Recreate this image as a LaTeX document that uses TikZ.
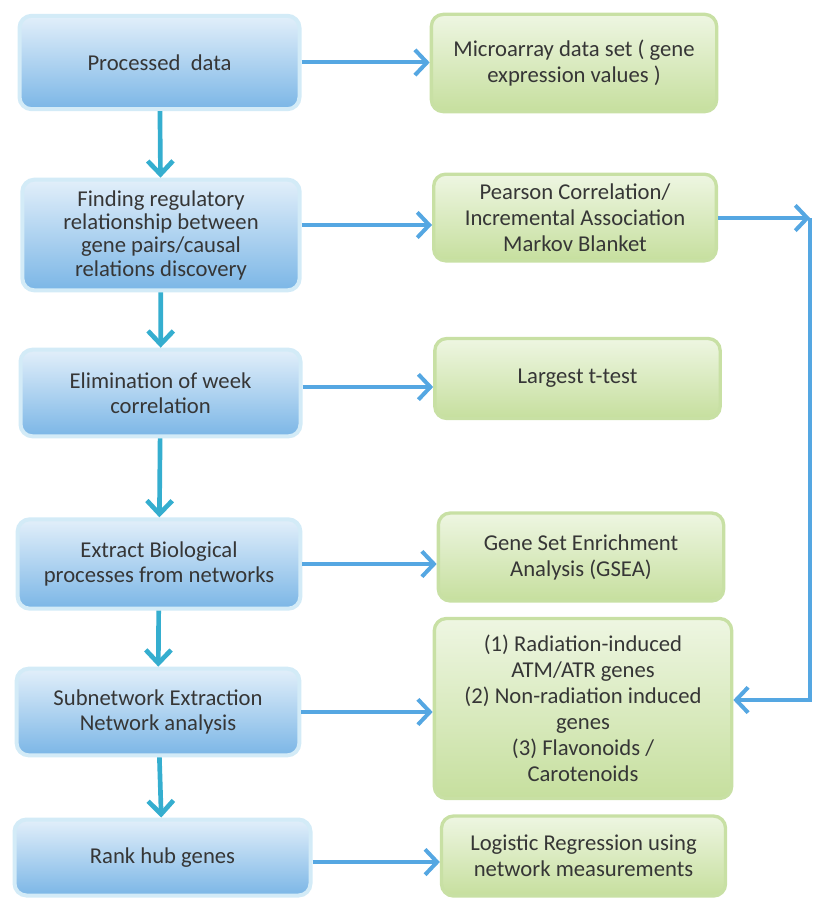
\documentclass[tikz,border=0pt]{standalone}
\usepackage{fontspec}
\setmainfont{Carlito}
\usetikzlibrary{arrows.meta, shadings}

\definecolor{blueTop}{HTML}{E2EFFA}
\definecolor{blueBot}{HTML}{7BB6E6}
\definecolor{blueRim}{HTML}{D3EBF7}
\definecolor{greenTop}{HTML}{EEF6E2}
\definecolor{greenBot}{HTML}{C6DF9E}
\definecolor{greenRim}{HTML}{C8E0A4}
\definecolor{sideBlue}{HTML}{55A7E2}
\definecolor{downTeal}{HTML}{35AECF}
\definecolor{txtGray}{HTML}{363636}

\tikzset{
  bluebox/.style={rounded corners=9pt, draw=blueRim, line width=3pt,
    top color=blueTop, bottom color=blueBot, text=txtGray, align=center,
    font=\fontsize{17}{19}\selectfont, inner sep=2pt},
  greenbox/.style={rounded corners=9pt, draw=greenRim, line width=2.5pt,
    top color=greenTop, bottom color=greenBot, text=txtGray, align=center,
    font=\fontsize{17}{19.5}\selectfont, inner sep=2pt},
  sidearrow/.style={draw=sideBlue, line width=3pt, -{Straight Barb[length=9pt,width=19pt]}},
  downarrow/.style={draw=downTeal, line width=3.5pt, -{Straight Barb[length=10pt,width=19pt]}},
}

\begin{document}
\begin{tikzpicture}[x=0.75pt, y=-0.75pt]
\useasboundingbox (0,0) rectangle (813,899);

% left column
\node[bluebox, minimum width=210pt, minimum height=70pt] (proc) at (159.5,62.5) {Processed\ \ data};
\node[bluebox, minimum width=208pt, minimum height=83pt, font=\fontsize{17}{17.5}\selectfont] (regul) at (161,235) {Finding regulatory\\relationship between\\gene pairs/causal\\relations discovery};
\node[bluebox, minimum width=210pt, minimum height=65pt] (elim) at (160.5,393) {Elimination of week\\correlation};
\node[bluebox, minimum width=212pt, minimum height=67pt] (bio) at (159,564) {Extract Biological\\processes from networks};
\node[bluebox, minimum width=212pt, minimum height=65pt] (subnet) at (158,712) {Subnetwork Extraction\\Network analysis};
\node[bluebox, minimum width=222pt, minimum height=57pt] (rank) at (162.5,857.5) {Rank hub genes};

% right column
\node[greenbox, minimum width=214pt, minimum height=73pt] (micro) at (574,63) {Microarray data set ( gene\\expression values )};
\node[greenbox, minimum width=212pt, minimum height=65pt] (pearson) at (575,217.5) {Pearson Correlation/\\Incremental Association\\Markov Blanket};
\node[greenbox, minimum width=214pt, minimum height=60pt] (ttest) at (577.5,378.5) {Largest t-test};
\node[greenbox, minimum width=214pt, minimum height=66pt] (gsea) at (581,557) {Gene Set Enrichment\\Analysis (GSEA)};
\node[greenbox, minimum width=223pt, minimum height=135pt] (genes) at (583,708.5) {(1) Radiation-induced\\ATM/ATR genes\\(2) Non-radiation induced\\genes\\(3) Flavonoids /\\Carotenoids};
\node[greenbox, minimum width=213pt, minimum height=60pt] (logit) at (583.5,856) {Logistic Regression using\\network measurements};

% downward flow
\draw[downarrow] (proc) -- (regul);
\draw[downarrow] (regul) -- (elim);
\draw[downarrow] (elim) -- (bio);
\draw[downarrow] (bio) -- (subnet);
\draw[downarrow] (subnet) -- (rank);

% sideways
\draw[sidearrow] (proc.east) -- (proc.east -| micro.west);
\draw[sidearrow] ([yshift=7.5pt]regul.east) -- ([yshift=7.5pt]regul.east -| pearson.west);
\draw[sidearrow] ([yshift=4.5pt]elim.east) -- ([yshift=4.5pt]elim.east -| ttest.west);
\draw[sidearrow] (bio.east) -- (bio.east -| gsea.west);
\draw[sidearrow] (subnet.east) -- (subnet.east -| genes.west);
\draw[sidearrow] ([yshift=-3.4pt]rank.east) -- ([yshift=-3.4pt]rank.east -| logit.west);

% loop on the right
\coordinate (turnA) at (810,218);
\coordinate (turnB) at (810,700);
\draw[sidearrow] (pearson.east |- turnA) -- (turnA);
\draw[sidearrow] (turnA) -- (turnB) -- (turnB -| genes.east);
\end{tikzpicture}
\end{document}
